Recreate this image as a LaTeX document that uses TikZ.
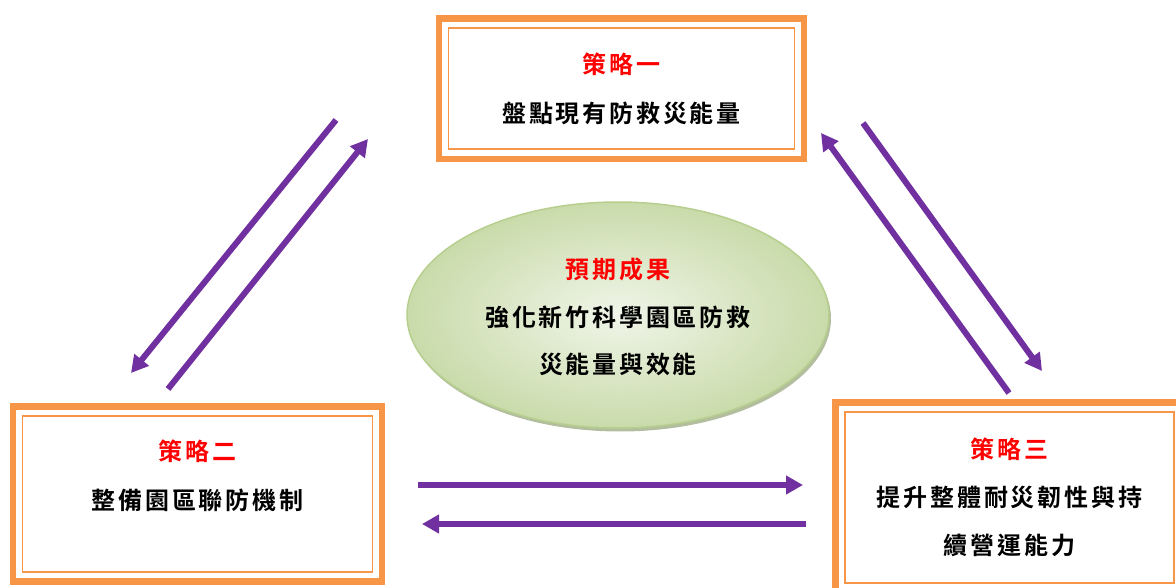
\documentclass[tikz,border=0pt]{standalone}
\usepackage{fontspec}
\usetikzlibrary{arrows.meta,shapes.geometric,shadows}
\newfontfamily\cjk{Noto Sans CJK TC}[UprightFont=*, BoldFont=* Bold]
\definecolor{boxorange}{HTML}{F79646}
\definecolor{arrowpurple}{HTML}{7030A0}
\definecolor{titlered}{HTML}{FF0000}
\definecolor{elliborder}{HTML}{B7CF8E}
\definecolor{ellin}{HTML}{F0F5E9}
\definecolor{ellout}{HTML}{C9DBAA}
\definecolor{ellshadow}{HTML}{9FAE86}
\newdimen\cgap \cgap=2.8pt
\def\spc#1{\spcfirst#1\relax}
\def\spcfirst#1{#1\spcaux}
\def\spcaux#1{\ifx\relax#1\else\kern\cgap#1\expandafter\spcaux\fi}
\begin{document}
\begin{tikzpicture}[x=1pt,y=-1pt,
  stratbox/.style={draw=boxorange, line width=1.8pt, fill=white, inner sep=0pt},
  frame/.style={draw=boxorange, line width=6.5pt},
  lbl/.style={font=\cjk\bfseries\fontsize{24}{49}\selectfont, align=center, inner sep=0pt},
  outcome/.style={ellipse, draw=elliborder, line width=1.5pt, inner color=ellin, outer color=ellout,
    drop shadow={fill=ellshadow, opacity=0.8, shadow xshift=2pt, shadow yshift=-3.5pt}},
  flow/.style={draw=arrowpurple, line width=6pt, -{Triangle[length=17pt,width=18pt]}}]
\useasboundingbox (0,0) rectangle (1176,588);
\clip (0,0) rectangle (1176,588);
% strategy boxes
\node[stratbox, minimum width=346pt, minimum height=121pt] (b1) at (621.5,88.8) {};
\node[stratbox, minimum width=350pt, minimum height=156pt] (b2) at (197.4,493.9) {};
\node[stratbox, minimum width=329pt, minimum height=171pt] (b3) at (1009.5,497.5) {};
\foreach \b in {b1,b2,b3}{
  \draw[frame] ([shift={(-8.7pt,8.7pt)}]\b.north west) rectangle ([shift={(8.7pt,-8.7pt)}]\b.south east);
}
\node[lbl] (t1) at (b1.center) {\textcolor{titlered}{\spc{策略一}}\\\spc{盤點現有防救災能量}};
\node[lbl] (t2) at ([yshift=18pt]b2.center) {\textcolor{titlered}{\spc{策略二}}\\\spc{整備園區聯防機制}};
\node[lbl, font=\cjk\bfseries\fontsize{24}{48}\selectfont] (t3) at (b3.center) {\textcolor{titlered}{\spc{策略三}}\\\spc{提升整體耐災韌性與持}\\\spc{續營運能力}};
% expected outcome
\node[outcome, minimum width=422pt, minimum height=226pt] (e) at (618,315) {};
\node[lbl, font=\cjk\bfseries\fontsize{24}{47.5}\selectfont] (te) at ([yshift=-2pt]e.center) {\textcolor{titlered}{\spc{預期成果}}\\\spc{強化新竹科學園區防救}\\\spc{災能量與效能}};
% arrows
\coordinate (a1s) at (336,120);  \coordinate (a1e) at (131,373);
\coordinate (a2s) at (168,389);  \coordinate (a2e) at (368,139);
\coordinate (a3s) at (1009,393); \coordinate (a3e) at (821,133);
\coordinate (a4s) at (863,123);  \coordinate (a4e) at (1042,371);
\coordinate (a5s) at (418,485);  \coordinate (a5e) at (803,485);
\coordinate (a6s) at (806,524);  \coordinate (a6e) at (422,524);
\foreach \i in {1,...,6}{\draw[flow] (a\i s) -- (a\i e);}
\end{tikzpicture}
\end{document}
